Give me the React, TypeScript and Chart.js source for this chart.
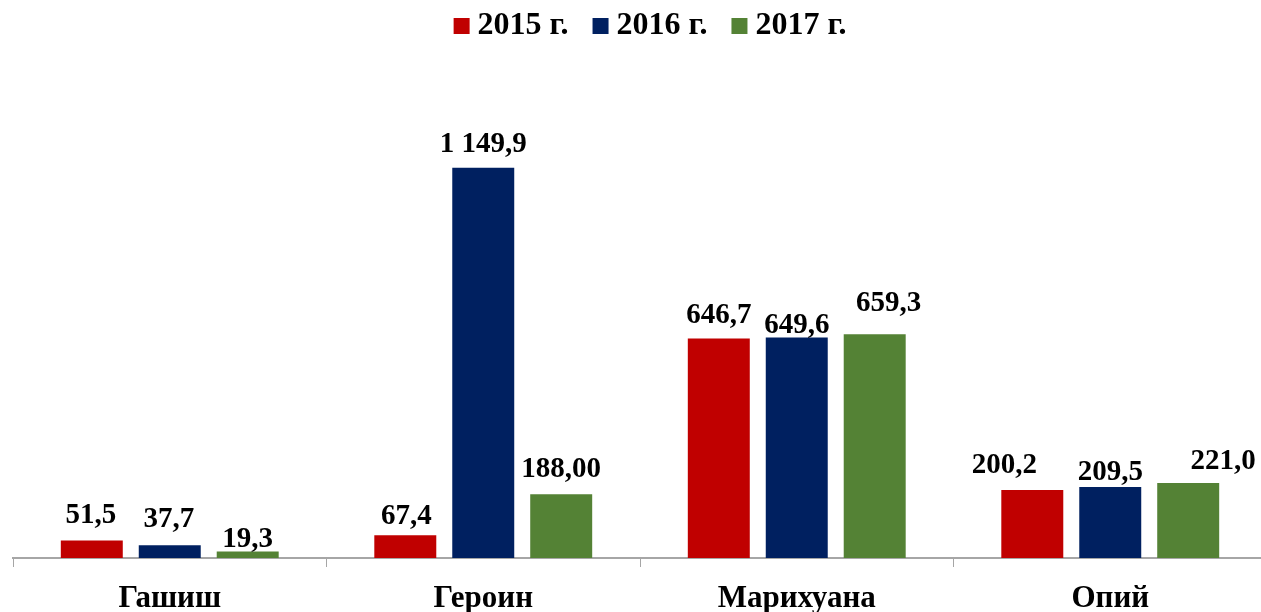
import React, { useEffect, useRef } from "react";
import { Chart, registerables } from "chart.js";

Chart.register(...registerables);

const categories = ["Гашиш", "Героин", "Марихуана", "Опий"];
const seriesNames = ["2015 г.", "2016 г.", "2017 г."];
const values2015 = [51.5, 67.4, 646.7, 200.2];
const values2016 = [37.7, 1149.9, 649.6, 209.5];
const values2017 = [19.3, 188.0, 659.3, 221.0];
const decimals2015 = [1, 1, 1, 1];
const decimals2016 = [1, 1, 1, 1];
const decimals2017 = [1, 2, 1, 1];
const seriesColors = ["#C00000", "#002060", "#548235"];

// label placement styles (horizontal shift, gap between bar top and label baseline)
const labelShiftX = [
  [-1, 1, 0, -28],
  [-1, 0, 0, 0],
  [0, 0, 14, 35],
];
const labelGap = [
  [18, 11, 16, 17],
  [18, 16, 5, 7],
  [4, 17, 23, 14],
];

const FONT = '"Liberation Serif", "Times New Roman", serif';

function formatValue(v: number, d: number): string {
  const s = v.toFixed(d);
  const [intPart, frac] = s.split(".");
  const withSpaces = intPart.replace(/\B(?=(\d{3})+(?!\d))/g, " ");
  return frac ? withSpaces + "," + frac : withSpaces;
}

const seriesValues = [values2015, values2016, values2017];
const seriesDecimals = [decimals2015, decimals2016, decimals2017];

const dataLabelPlugin = {
  id: "dataLabels",
  afterDatasetsDraw(chart: any) {
    const ctx = chart.ctx;
    ctx.save();
    ctx.font = `bold 29px ${FONT}`;
    ctx.fillStyle = "#000";
    ctx.textAlign = "center";
    ctx.textBaseline = "alphabetic";
    chart.data.datasets.forEach((ds: any, i: number) => {
      const meta = chart.getDatasetMeta(i);
      meta.data.forEach((bar: any, j: number) => {
        const { x, y } = bar.getProps(["x", "y"], true);
        const txt = formatValue(seriesValues[i][j], seriesDecimals[i][j]);
        ctx.fillText(txt, x + labelShiftX[i][j], y - labelGap[i][j]);
      });
    });
    ctx.restore();
  },
};

const legendPlugin = {
  id: "customLegend",
  afterDraw(chart: any) {
    const ctx = chart.ctx;
    ctx.save();
    ctx.font = `bold 32px ${FONT}`;
    ctx.textBaseline = "alphabetic";
    ctx.textAlign = "left";
    const box = 16;
    const gapText = 8;
    const gapItem = 24;
    const widths = seriesNames.map((n) => ctx.measureText(n).width);
    const total =
      widths.reduce((a, b) => a + b, 0) +
      seriesNames.length * (box + gapText) +
      (seriesNames.length - 1) * gapItem;
    let x = 650 - total / 2;
    seriesNames.forEach((n, i) => {
      ctx.fillStyle = seriesColors[i];
      ctx.fillRect(x, 18, box, box);
      x += box + gapText;
      ctx.fillStyle = "#000";
      ctx.fillText(n, x, 34);
      x += widths[i] + gapItem;
    });
    ctx.restore();
  },
};

export default function App() {
  const ref = useRef<HTMLCanvasElement | null>(null);
  useEffect(() => {
    if (!ref.current) return;
    const chart = new Chart(ref.current, {
      type: "bar",
      data: {
        labels: categories,
        datasets: seriesNames.map((name, i) => ({
          label: name,
          data: seriesValues[i],
          backgroundColor: seriesColors[i],
          borderWidth: 0,
          barPercentage: 0.795,
          categoryPercentage: 0.746,
        })),
      },
      options: {
        animation: false,
        responsive: true,
        maintainAspectRatio: false,
        layout: { padding: { left: 13, right: 13, top: 83, bottom: 0 } },
        plugins: {
          legend: { display: false },
          tooltip: { enabled: false },
        },
        scales: {
          x: {
            grid: {
              offset: true,
              drawOnChartArea: false,
              drawTicks: true,
              tickLength: 9,
              color: "#A6A6A6",
              lineWidth: 1,
            },
            border: { display: true, color: "#A6A6A6", width: 2 },
            ticks: {
              color: "#000",
              font: { family: FONT, size: 31, weight: "bold" },
              padding: 13,
              maxRotation: 0,
              autoSkip: false,
            },
            afterFit(scale: any) {
              scale.height = 54;
            },
          },
          y: {
            display: false,
            min: 0,
            max: 1400,
          },
        },
      },
      plugins: [dataLabelPlugin, legendPlugin],
    });
    return () => chart.destroy();
  }, []);
  return (
    <div
      style={{
        position: "fixed",
        left: 0,
        top: 0,
        width: 1261,
        height: 612,
        overflow: "hidden",
        background: "#fff",
      }}
    >
      <div style={{ position: "relative", width: 1280, height: 612 }}>
        <canvas ref={ref} />
      </div>
    </div>
  );
}
